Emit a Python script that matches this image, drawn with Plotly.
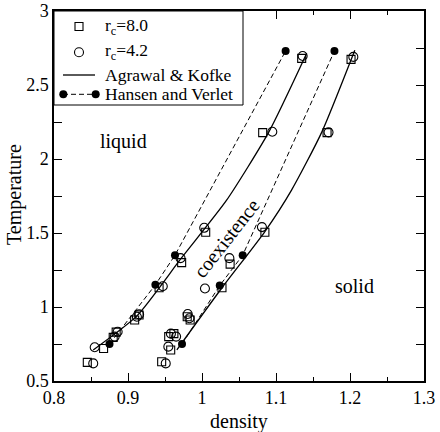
import plotly.graph_objects as go

# r_c = 8.0 (open squares)
sq_x = [0.845, 0.867, 0.880, 0.884, 0.909, 0.915, 0.942, 0.9725, 1.005, 1.082, 1.1347,
        0.9455, 0.9577, 0.955, 0.962, 0.980, 0.984, 1.027, 1.038, 1.085, 1.169, 1.2014]
sq_y = [0.626, 0.72, 0.795, 0.83, 0.912, 0.946, 1.13, 1.30, 1.505, 2.178, 2.68,
        0.63, 0.709, 0.80, 0.82, 0.934, 0.912, 1.13, 1.29, 1.505, 2.178, 2.673]

# r_c = 4.2 (open circles)
ci_x = [0.853, 0.855, 0.882, 0.886, 0.912, 0.915, 0.947, 0.971, 1.003, 1.095, 1.136,
        0.951, 0.9545, 0.958, 0.965, 0.9807, 0.983, 1.004, 1.037, 1.081, 1.171, 1.2045]
ci_y = [0.619, 0.728, 0.80, 0.833, 0.934, 0.95, 1.14, 1.33, 1.535, 2.184, 2.696,
        0.619, 0.732, 0.82, 0.80, 0.953, 0.924, 1.125, 1.33, 1.54, 2.18, 2.69]

# Agrawal & Kofke (solid curves)
ak_liq_x = [0.853, 0.912, 0.972, 1.033, 1.090, 1.1415]
ak_liq_y = [0.71, 0.94, 1.33, 1.72, 2.18, 2.715]
ak_sol_x = [0.966, 1.027, 1.085, 1.121, 1.1617, 1.2065]
ak_sol_y = [0.71, 1.13, 1.51, 1.79, 2.18, 2.735]

# Hansen and Verlet (filled circles, dashed)
hv_liq_x = [0.875, 0.937, 0.9635, 1.113]
hv_liq_y = [0.75, 1.15, 1.35, 2.73]
hv_sol_x = [0.973, 1.024, 1.055, 1.179]
hv_sol_y = [0.75, 1.145, 1.35, 2.73]

FONT = "Liberation Serif, Times New Roman, serif"

fig = go.Figure()

for xs, ys in [(ak_liq_x, ak_liq_y), (ak_sol_x, ak_sol_y)]:
    fig.add_trace(go.Scatter(x=xs, y=ys, mode="lines",
                             line=dict(color="black", width=1.3, shape="spline", smoothing=0.6),
                             showlegend=False))
for xs, ys in [(hv_liq_x, hv_liq_y), (hv_sol_x, hv_sol_y)]:
    fig.add_trace(go.Scatter(x=xs, y=ys, mode="lines+markers",
                             line=dict(color="black", width=1, dash="5px,3px"),
                             marker=dict(symbol="circle", size=8, color="black"),
                             showlegend=False))
fig.add_trace(go.Scatter(x=sq_x, y=sq_y, mode="markers",
                         marker=dict(symbol="square-open", size=8, color="black",
                                     line=dict(width=1.1, color="black")),
                         showlegend=False))
fig.add_trace(go.Scatter(x=ci_x, y=ci_y, mode="markers",
                         marker=dict(symbol="circle-open", size=9, color="black",
                                     line=dict(width=1.1, color="black")),
                         showlegend=False))

# ---- custom legend (paper coordinates) ----
L, T, W, H = 54, 11, 370, 370
def px(x): return (x - L) / W
def py(y): return (T + H - y) / H

shapes = [
    dict(type="rect", xref="paper", yref="paper", x0=0, x1=px(243), y0=py(105), y1=1,
         line=dict(color="black", width=1), fillcolor="white", layer="above"),
    dict(type="rect", xref="paper", yref="paper", xsizemode="pixel", ysizemode="pixel",
         xanchor=px(79), yanchor=py(26.5), x0=-4, x1=4, y0=-4, y1=4,
         line=dict(color="black", width=1.1), layer="above"),
    dict(type="circle", xref="paper", yref="paper", xsizemode="pixel", ysizemode="pixel",
         xanchor=px(79), yanchor=py(52.3), x0=-4.5, x1=4.5, y0=-4.5, y1=4.5,
         line=dict(color="black", width=1.1), layer="above"),
    dict(type="line", xref="paper", yref="paper", x0=px(63), x1=px(95), y0=py(75), y1=py(75),
         line=dict(color="black", width=1.3), layer="above"),
    dict(type="line", xref="paper", yref="paper", x0=px(63), x1=px(96), y0=py(94.3), y1=py(94.3),
         line=dict(color="black", width=1, dash="5px,3px"), layer="above"),
]
for cx in (63.3, 95.7):
    shapes.append(dict(type="circle", xref="paper", yref="paper", xsizemode="pixel",
                       ysizemode="pixel", xanchor=px(cx), yanchor=py(94.3),
                       x0=-4, x1=4, y0=-4, y1=4, fillcolor="black",
                       line=dict(color="black", width=0), layer="above"))

legend_texts = ["r<sub>c</sub>=8.0", "r<sub>c</sub>=4.2", "Agrawal &amp; Kofke", "Hansen and Verlet"]
legend_ys = [26.5, 51.5, 74.5, 94]
annotations = []
for t, yy in zip(legend_texts, legend_ys):
    annotations.append(dict(text=t, xref="paper", yref="paper", x=px(103), y=py(yy),
                            xanchor="left", yanchor="middle", showarrow=False,
                            font=dict(family=FONT, size=17.5, color="black")))

annotations += [
    dict(text="liquid", x=0.8939, y=2.115, xref="x", yref="y", showarrow=False,
         font=dict(family=FONT, size=20, color="black")),
    dict(text="solid", x=1.2063, y=1.144, xref="x", yref="y", showarrow=False,
         font=dict(family=FONT, size=20, color="black")),
    dict(text="coexistence", x=1.0334, y=1.464, xref="x", yref="y", showarrow=False,
         textangle=-52, font=dict(family=FONT, size=20, color="black")),
    # axis titles
    dict(text="density", x=px(239), y=py(421), xref="paper", yref="paper", showarrow=False,
         xanchor="center", yanchor="middle", font=dict(family=FONT, size=20, color="black")),
    dict(text="Temperature", x=px(14), y=py(195), xref="paper", yref="paper", showarrow=False,
         xanchor="center", yanchor="middle", textangle=-90,
         font=dict(family=FONT, size=20, color="black")),
]

axis_common = dict(showline=True, linecolor="black", linewidth=1.5, mirror="ticks",
                   ticks="inside", tickcolor="black", ticklen=8, tickwidth=1,
                   showgrid=False, zeroline=False, automargin=False,
                   tickfont=dict(family=FONT, size=18, color="black"))

fig.update_xaxes(range=[0.8, 1.3], tick0=0.8, dtick=0.1,
                 minor=dict(tick0=0.8, dtick=0.05, ticks="inside", ticklen=4,
                            tickcolor="black", tickwidth=1, showgrid=False),
                 **axis_common)
fig.update_yaxes(range=[0.5, 3], tick0=0.5, dtick=0.5,
                 minor=dict(tick0=0.5, dtick=0.25, ticks="inside", ticklen=8,
                            tickcolor="black", tickwidth=1, showgrid=False),
                 **axis_common)

fig.update_layout(width=440, height=432, margin=dict(l=54, r=16, t=11, b=51),
                  paper_bgcolor="white", plot_bgcolor="white",
                  shapes=shapes, annotations=annotations, showlegend=False)

fig.write_html("out.html")
